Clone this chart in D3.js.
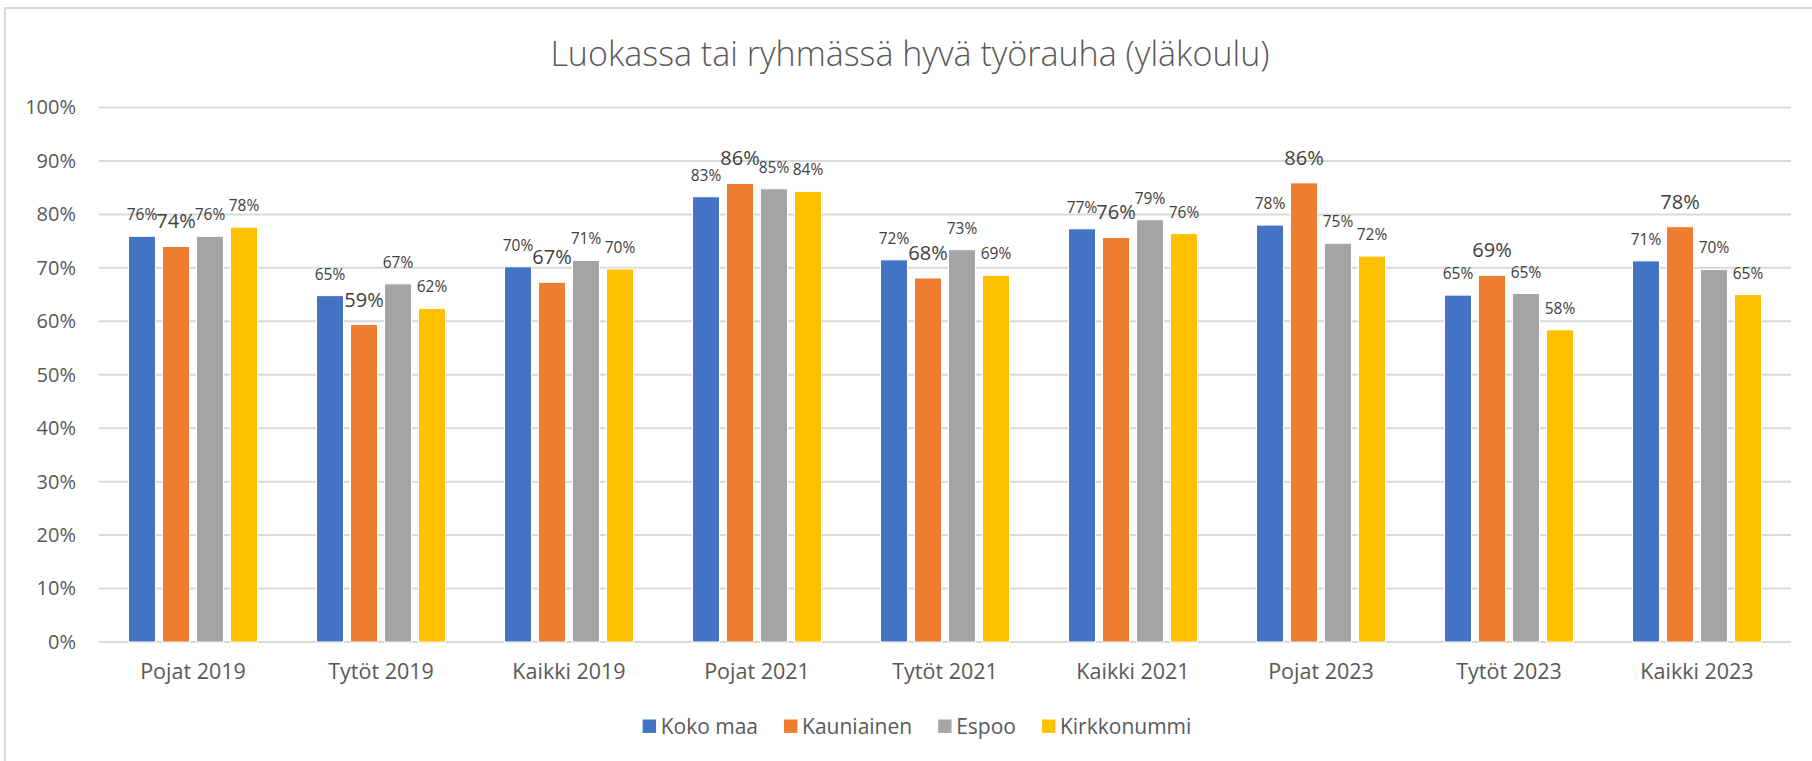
<!DOCTYPE html>
<html>
<head>
<meta charset="utf-8">
<script src="https://cdn.jsdelivr.net/npm/d3@7"></script>
<style>
  body { margin: 0; background: #fff; }
  svg text { font-family: "Open Sans", sans-serif; fill: #595959; }
</style>
</head>
<body>
<script>
// data
var categories = ["Pojat 2019", "Tytöt 2019", "Kaikki 2019", "Pojat 2021", "Tytöt 2021",
  "Kaikki 2021", "Pojat 2023", "Tytöt 2023", "Kaikki 2023"];
var seriesNames = ["Koko maa", "Kauniainen", "Espoo", "Kirkkonummi"];
var kokoMaa = [75.9, 64.8, 70.2, 83.3, 71.5, 77.3, 78.0, 64.9, 71.3];
var kauniainen = [74.0, 59.4, 67.3, 85.8, 68.1, 75.7, 85.9, 68.6, 77.7];
var espoo = [75.9, 67.0, 71.4, 84.8, 73.4, 79.0, 74.6, 65.2, 69.7];
var kirkkonummi = [77.6, 62.4, 69.8, 84.3, 68.6, 76.4, 72.2, 58.4, 65.0];
var yTicks = [0, 10, 20, 30, 40, 50, 60, 70, 80, 90, 100];

var colors = ["#4472C4", "#ED7D31", "#A5A5A5", "#FFC000"];
var allValues = [kokoMaa, kauniainen, espoo, kirkkonummi];

var W = 1812, H = 761;
var svg = d3.select("body").append("svg").attr("width", W).attr("height", H);

// chart area border
svg.append("rect")
  .attr("x", 5).attr("y", 8)
  .attr("width", W + 10).attr("height", H + 10)
  .attr("fill", "none").attr("stroke", "#D9D9D9").attr("stroke-width", 2);

// title
svg.append("text")
  .attr("x", 910).attr("y", 66)
  .attr("text-anchor", "middle")
  .style("font-size", "34px")
  .style("font-weight", 300)
  .text("Luokassa tai ryhmässä hyvä työrauha (yläkoulu)");

var x = d3.scaleBand().domain(categories).range([99, 1791]).paddingInner(0).paddingOuter(0);
var y = d3.scaleLinear().domain([0, 100]).range([642, 107.5]);
var slot = 34, gap = 7;
var x1 = d3.scaleBand().domain(seriesNames).range([0, slot * 4]).padding(0);

// gridlines
svg.append("g").selectAll("line")
  .data(yTicks).enter().append("line")
  .attr("x1", x.range()[0]).attr("x2", x.range()[1])
  .attr("y1", function (d) { return y(d); })
  .attr("y2", function (d) { return y(d); })
  .attr("stroke", "#D9D9D9").attr("stroke-width", 2);

// y axis labels
var yAxis = svg.append("g")
  .attr("transform", "translate(76,0)")
  .call(d3.axisLeft(y).tickValues(yTicks).tickSize(0).tickPadding(0)
    .tickFormat(function (d) { return d + "%"; }));
yAxis.select(".domain").remove();
yAxis.selectAll("text").style("font-size", "20px").style("fill", "#595959")
  .style("font-family", "'Open Sans', sans-serif");

// x axis labels
var xAxis = svg.append("g")
  .attr("transform", "translate(0,664)")
  .call(d3.axisBottom(x).tickSize(0).tickPadding(0));
xAxis.select(".domain").remove();
xAxis.selectAll("text").style("font-size", "21.5px").style("fill", "#595959")
  .style("font-family", "'Open Sans', sans-serif");

// bars
var groups = svg.append("g").selectAll("g")
  .data(categories).enter().append("g")
  .attr("transform", function (d) {
    return "translate(" + (x(d) + x.bandwidth() / 2 - (slot * 4 - gap) / 2) + ",0)";
  });

groups.each(function (cat, i) {
  var g = d3.select(this);
  seriesNames.forEach(function (s, j) {
    var v = allValues[j][i];
    var bw = x1.bandwidth() - gap;
    g.append("rect")
      .attr("x", x1(s))
      .attr("width", bw)
      .attr("y", y(v))
      .attr("height", y(0) - y(v))
      .attr("fill", colors[j])
      .attr("stroke", "#fff").attr("stroke-width", 1);
    var big = j === 1;
    g.append("text")
      .attr("x", x1(s) + bw / 2)
      .attr("y", y(v) - (big ? 18 : 16))
      .attr("text-anchor", "middle")
      .style("font-size", big ? "20px" : "15.5px")
      .style("fill", "#404040")
      .text(d3.format(".0f")(v) + "%");
  });
});

// legend
var legend = svg.append("g");
var lx = 0;
seriesNames.forEach(function (s, j) {
  var it = legend.append("g");
  it.append("rect").attr("x", 0).attr("y", -6.5).attr("width", 13.4).attr("height", 13.4)
    .attr("fill", colors[j]);
  var t = it.append("text").attr("x", 18).attr("y", 7.5)
    .style("font-size", "21px").text(s);
  var w = 18 + t.node().getComputedTextLength();
  it.attr("transform", "translate(" + lx + ",0)");
  lx += w + 26;
});
lx -= 26;
legend.attr("transform", "translate(" + (917 - lx / 2) + ",726)");
</script>
</body>
</html>
